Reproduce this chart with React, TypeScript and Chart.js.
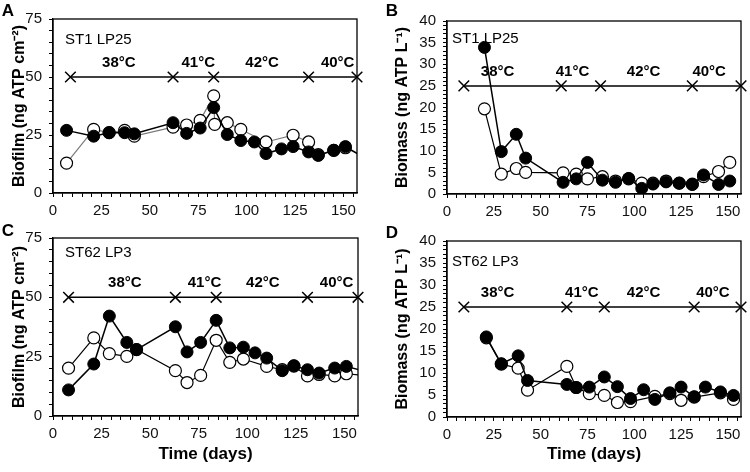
import React, { useEffect, useRef } from 'react';
import { Chart, registerables } from 'chart.js';
Chart.register(...registerables);

const FONT = "'Liberation Sans Narrow', 'Arial Narrow', 'Liberation Sans', Arial, sans-serif";

const tempLabels = ['38°C', '41°C', '42°C', '40°C'];
const xMax = 157;

// Panel A – biofilm ST1 LP25
const aFilledDays = [7, 21, 29, 37, 42, 62, 69, 76, 83, 90, 97, 104, 110, 118, 124, 132, 137, 145, 151, 162];
const aFilled = [27, 24.5, 26, 26, 25.5, 30.3, 25.7, 28, 36.8, 25.2, 22.6, 22, 17, 19, 20, 17.7, 16.2, 18.4, 20, 14.6];
const aOpenDays = [7, 21, 29, 37, 42, 62, 69, 76, 83, 83.5, 90, 97, 110, 124, 132, 137, 145, 151, 162];
const aOpen = [12.9, 27.4, 26, 27, 24.5, 28.4, 29.3, 31.3, 41.9, 29.6, 30.3, 27.4, 22, 24.9, 22, 16.5, 18.4, 19.5, 15];
const aMarks = [9, 62, 83, 132, 157];
const aTemps = [34, 75, 108, 147];

// Panel B – biomass ST1 LP25
const bFilledDays = [20, 29, 37, 42, 62, 69, 75, 83, 90, 97, 104, 110, 117, 124, 131, 137, 145, 151];
const bFilled = [33.9, 9.8, 13.8, 8.3, 2.7, 3.5, 7.3, 3.2, 2.7, 3.6, 1.3, 2.3, 2.8, 2.5, 2.2, 4.4, 2.2, 3];
const bOpenDays = [20, 29, 37, 42, 62, 69, 75, 83, 90, 97, 104, 110, 117, 124, 131, 137, 145, 151];
const bOpen = [19.7, 4.6, 5.9, 5, 4.9, 4.6, 3.5, 4, 3, 3.5, 2.5, 2.5, 3, 2.5, 2.3, 4, 5.2, 7.3];
const bMarks = [9, 61, 82, 131, 157];
const bTemps = [27, 67, 105, 140];

// Panel C – biofilm ST62 LP3
const cFilledDays = [8, 21, 29, 38, 43, 63, 69, 76, 84, 91, 98, 104, 110, 118, 124, 131, 137, 145, 151, 162];
const cFilled = [11, 21.9, 42.1, 31, 28, 37.6, 27, 31, 40.3, 28.7, 29, 26.6, 24.4, 19.1, 21.2, 19.5, 18.1, 20.2, 20.9, 18.5];
const cOpenDays = [8, 21, 29, 38, 43, 63, 69, 76, 84, 91, 98, 110, 118, 124, 131, 137, 145, 151, 162];
const cOpen = [20.2, 32.9, 26.3, 25.1, 28, 19.1, 14.1, 17.1, 31.9, 22.6, 24, 20.9, 19.5, 21, 16.9, 17.5, 16.9, 17.8, 17];
const cMarks = [8, 63, 84, 131, 157];
const cTemps = [37, 78, 108, 146];

// Panel D – biomass ST62 LP3
const dFilledDays = [21, 29, 38, 43, 64, 69, 76, 84, 91, 98, 105, 111, 119, 125, 132, 138, 146, 153];
const dFilled = [18.2, 12.1, 13.9, 8.3, 7.4, 6.7, 6.8, 9.1, 6.9, 4.2, 6.2, 4, 5.5, 6.8, 4.6, 6.8, 5.7, 4.9];
const dOpenDays = [21, 29, 38, 43, 64, 69, 76, 84, 91, 98, 111, 119, 125, 132, 146, 153];
const dOpen = [18, 12, 11.1, 6.1, 11.5, 6.7, 5.3, 4.9, 3.3, 3.5, 4.7, 5.3, 3.8, 4.5, 5.5, 4];
const dMarks = [9, 64, 84, 132, 157];
const dTemps = [27, 72, 105, 142];

type Panel = {
  left: number; top: number; width: number; height: number;
  l: number; r: number; t: number; b: number;
  letter: string; letterX: number; letterY: number;
  strain: string; sdx: number; sdy: number;
  yMax: number; yMinor: number; yMajor: number; yTitle: string; yPad: number;
  xTitle: boolean;
  fd: number[]; fv: number[]; od: number[]; ov: number[]; openColor: string;
  marks: number[]; markY: number; temps: number[];
};

const panels: Panel[] = [
  { left: 0, top: 0, width: 375, height: 222, l: 53, r: 357, t: 19, b: 193,
    letter: 'A', letterX: 8, letterY: 11, strain: 'ST1 LP25', sdx: 12, sdy: 21,
    yMax: 75, yMinor: 5, yMajor: 25, yTitle: 'Biofilm (ng ATP cm⁻²)', yPad: 10, xTitle: false,
    fd: aFilledDays, fv: aFilled, od: aOpenDays, ov: aOpen, openColor: '#7a7a7a',
    marks: aMarks, markY: 50, temps: aTemps },
  { left: 375, top: 0, width: 375, height: 222, l: 72, r: 366, t: 21, b: 194,
    letter: 'B', letterX: 17, letterY: 11, strain: 'ST1 LP25', sdx: 5, sdy: 18,
    yMax: 40, yMinor: 1, yMajor: 5, yTitle: 'Biomass (ng ATP L⁻¹)', yPad: 18, xTitle: false,
    fd: bFilledDays, fv: bFilled, od: bOpenDays, ov: bOpen, openColor: '#000',
    marks: bMarks, markY: 25, temps: bTemps },
  { left: 0, top: 222, width: 375, height: 250, l: 53, r: 358, t: 16, b: 194,
    letter: 'C', letterX: 8, letterY: 9, strain: 'ST62 LP3', sdx: 12, sdy: 15,
    yMax: 75, yMinor: 5, yMajor: 25, yTitle: 'Biofilm (ng ATP cm⁻²)', yPad: 10, xTitle: true,
    fd: cFilledDays, fv: cFilled, od: cOpenDays, ov: cOpen, openColor: '#000',
    marks: cMarks, markY: 50, temps: cTemps },
  { left: 375, top: 222, width: 375, height: 250, l: 72, r: 367, t: 19, b: 195,
    letter: 'D', letterX: 17, letterY: 11, strain: 'ST62 LP3', sdx: 5, sdy: 21,
    yMax: 40, yMinor: 1, yMajor: 5, yTitle: 'Biomass (ng ATP L⁻¹)', yPad: 18, xTitle: true,
    fd: dFilledDays, fv: dFilled, od: dOpenDays, ov: dOpen, openColor: '#000',
    marks: dMarks, markY: 25, temps: dTemps },
];

function makePlugin(p: Panel) {
  return {
    id: 'panelText' + p.letter,
    beforeDatasetsDraw(chart: any) {
      const { ctx, chartArea, scales } = chart;
      ctx.save();
      ctx.fillStyle = '#000';
      ctx.textBaseline = 'middle';
      ctx.textAlign = 'left';
      ctx.font = `15px ${FONT}`;
      ctx.fillText(p.strain, chartArea.left + p.sdx, chartArea.top + p.sdy);
      ctx.font = `bold 15px ${FONT}`;
      ctx.textAlign = 'center';
      const yy = scales.y.getPixelForValue(p.markY) - 14;
      p.temps.forEach((d, i) => ctx.fillText(tempLabels[i], scales.x.getPixelForValue(d), yy));
      ctx.restore();
    },
    afterDraw(chart: any) {
      const { ctx, chartArea } = chart;
      ctx.save();
      ctx.strokeStyle = '#000';
      ctx.lineWidth = 1.3;
      ctx.strokeRect(chartArea.left, chartArea.top, chartArea.right - chartArea.left, chartArea.bottom - chartArea.top);
      ctx.fillStyle = '#000';
      ctx.font = `bold 17px ${FONT}`;
      ctx.textAlign = 'center';
      ctx.textBaseline = 'middle';
      ctx.fillText(p.letter, p.letterX, p.letterY);
      ctx.restore();
    },
  };
}

function PanelChart({ p }: { p: Panel }) {
  const ref = useRef<HTMLCanvasElement>(null);
  useEffect(() => {
    const xH = p.height - p.b;
    const chart = new Chart(ref.current!, {
      type: 'line',
      data: {
        datasets: [
          {
            data: p.fd.map((d, i) => ({ x: d, y: p.fv[i] })),
            borderColor: '#000', borderWidth: 1.5,
            pointRadius: 6, pointBackgroundColor: '#000', pointBorderColor: '#000', pointBorderWidth: 1,
            pointStyle: 'circle', tension: 0,
          },
          {
            data: p.od.map((d, i) => ({ x: d, y: p.ov[i] })),
            borderColor: p.openColor, borderWidth: 1.2,
            pointRadius: 6, pointBackgroundColor: '#fff', pointBorderColor: '#000', pointBorderWidth: 1.2,
            pointStyle: 'circle', tension: 0,
          },
          {
            data: p.marks.map((d) => ({ x: d, y: p.markY })),
            borderColor: '#000', borderWidth: 1.5,
            pointRadius: 7.5, pointStyle: 'crossRot', pointBorderColor: '#000', pointBorderWidth: 1.5,
            pointBackgroundColor: '#000', clip: false as any, tension: 0,
          },
        ],
      },
      options: {
        responsive: false,
        animation: false,
        devicePixelRatio: 1,
        layout: { padding: { left: 0, top: p.t, right: p.width - p.r, bottom: 0 } },
        plugins: { legend: { display: false }, tooltip: { enabled: false } },
        scales: {
          x: {
            type: 'linear', min: 0, max: xMax,
            afterFit: (s: any) => { s.height = xH; },
            ticks: {
              stepSize: 5, includeBounds: false, autoSkip: false, maxRotation: 0,
              callback: (v: any) => (Number(v) % 25 === 0 ? String(v) : ''),
              font: { family: FONT, size: 15 }, color: '#111', padding: 5,
            },
            grid: { drawOnChartArea: false, tickLength: 4, color: '#000', lineWidth: 1 },
            border: { color: '#000', width: 1.3 },
            title: {
              display: p.xTitle, text: 'Time (days)',
              font: { family: FONT, size: 17, weight: 'bold' }, color: '#000',
              padding: { top: 0, bottom: 7 },
            },
          },
          y: {
            type: 'linear', min: 0, max: p.yMax,
            afterFit: (s: any) => { s.width = p.l; },
            ticks: {
              stepSize: p.yMinor, autoSkip: false, includeBounds: false,
              callback: (v: any) => (Number(v) % p.yMajor === 0 ? String(v) : ''),
              font: { family: FONT, size: 15 }, color: '#111', padding: 7,
            },
            grid: { drawOnChartArea: false, tickLength: 4, color: '#000', lineWidth: 1 },
            border: { color: '#000', width: 1.3 },
            title: {
              display: true, text: p.yTitle,
              font: { family: FONT, size: 16, weight: 'bold' }, color: '#000',
              padding: { top: p.yPad, bottom: 0 },
            },
          },
        },
      },
      plugins: [makePlugin(p)],
    } as any);
    return () => chart.destroy();
  }, []);
  return (
    <canvas
      ref={ref}
      width={p.width}
      height={p.height}
      style={{ position: 'absolute', left: p.left, top: p.top, width: p.width, height: p.height }}
    />
  );
}

export default function App() {
  return (
    <div style={{ position: 'absolute', left: 0, top: 0, width: 750, height: 472, background: '#fff' }}>
      {panels.map((p) => (
        <PanelChart key={p.letter} p={p} />
      ))}
    </div>
  );
}
